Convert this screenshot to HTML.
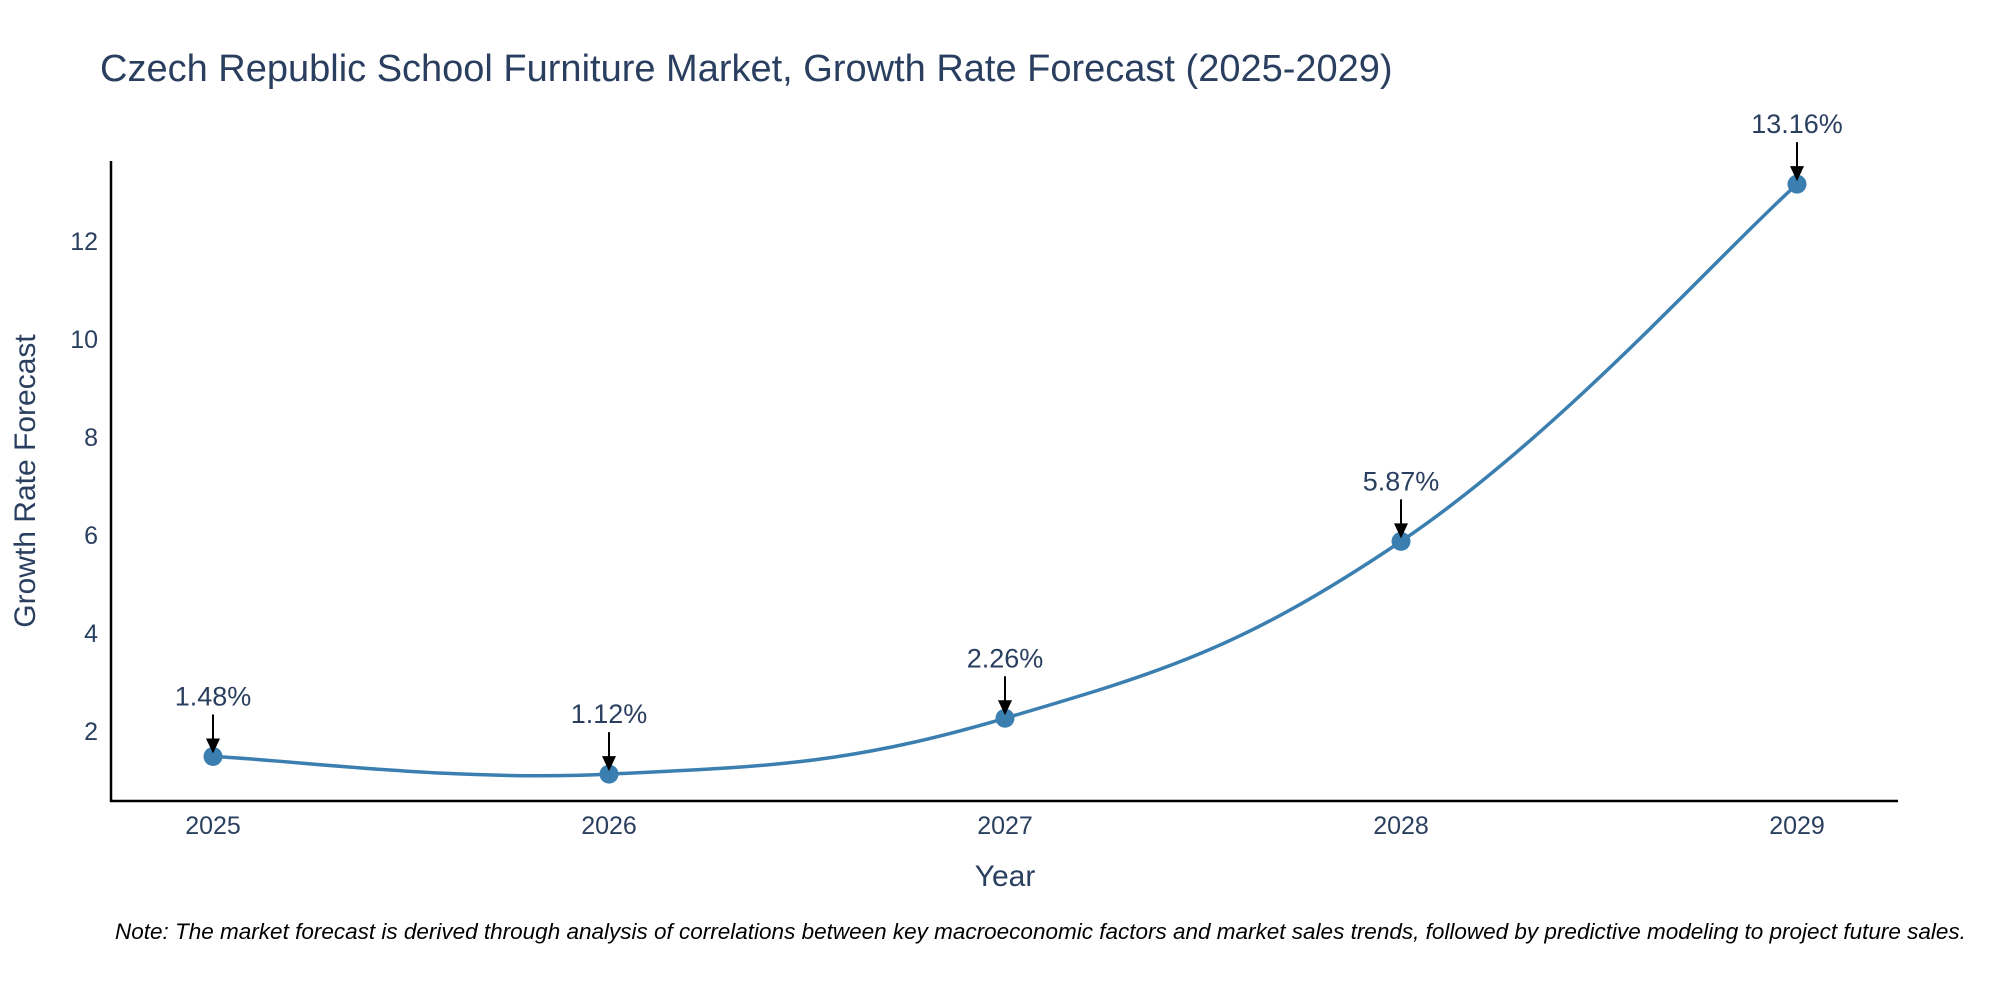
<!DOCTYPE html>
<html><head><meta charset="utf-8"><style>
body{margin:0;background:#fff;}
svg text{font-family:"Liberation Sans",sans-serif;}
</style></head><body>
<svg width="2000" height="1000" xmlns="http://www.w3.org/2000/svg">
<text x="100" y="81" font-size="38" fill="#2a3f5f">Czech Republic School Furniture Market, Growth Rate Forecast (2025-2029)</text>
<g id="yticks"></g><g id="xticks"></g>
<line x1="111" y1="161" x2="111" y2="802" stroke="#000" stroke-width="2.5"/>
<line x1="110" y1="801" x2="1898" y2="801" stroke="#000" stroke-width="2.5"/>
<path id="line" fill="none" stroke="#3a7fb0" stroke-width="3.5"/>
<g id="marks"></g>
<text x="1005" y="886" font-size="30" fill="#2a3f5f" text-anchor="middle">Year</text>
<text transform="translate(35,481) rotate(-90)" font-size="30" fill="#2a3f5f" text-anchor="middle">Growth Rate Forecast</text>
<text x="115" y="939" font-size="22.5" font-style="italic" fill="#000">Note: The market forecast is derived through analysis of correlations between key macroeconomic factors and market sales trends, followed by predictive modeling to project future sales.</text>
</svg>
<script>
const years=[2025,2026,2027,2028,2029];
const values=[1.48,1.12,2.26,5.87,13.16];
const labels=["1.48%","1.12%","2.26%","5.87%","13.16%"];
const yTicks=[2,4,6,8,10,12];
const NS="http://www.w3.org/2000/svg";
function X(yr){return 213+(yr-2025)*396;}
function Y(v){return 731-(v-2)*49;}
const yt=document.getElementById('yticks');
yTicks.forEach(t=>{const e=document.createElementNS(NS,'text');
e.setAttribute('x',98);e.setAttribute('y',Y(t)+9);e.setAttribute('font-size',25);e.setAttribute('fill','#2a3f5f');e.setAttribute('text-anchor','end');


e.textContent=t;yt.appendChild(e);});
const xt=document.getElementById('xticks');
years.forEach(t=>{const e=document.createElementNS(NS,'text');
e.setAttribute('x',X(t));e.setAttribute('y',834);e.setAttribute('font-size',25);e.setAttribute('fill','#2a3f5f');e.setAttribute('text-anchor','middle');


e.textContent=t;xt.appendChild(e);});
const P=years.map((y,i)=>[X(y),Y(values[i])]);
let d='M'+P[0][0]+','+P[0][1];
const k=0.2;
for(let i=0;i<P.length-1;i++){const p0=P[Math.max(i-1,0)],p1=P[i],p2=P[i+1],p3=P[Math.min(i+2,P.length-1)];
const c1=[p1[0]+(p2[0]-p0[0])*k,p1[1]+(p2[1]-p0[1])*k],c2=[p2[0]-(p3[0]-p1[0])*k,p2[1]-(p3[1]-p1[1])*k];
d+=' C'+c1+' '+c2+' '+p2;}
document.getElementById('line').setAttribute('d',d);
const mk=document.getElementById('marks');
P.forEach((p,i)=>{const c=document.createElementNS(NS,'circle');
c.setAttribute('cx',p[0]);c.setAttribute('cy',p[1]);c.setAttribute('r',9.5);c.setAttribute('fill','#3a7fb0');


mk.appendChild(c);
const a=document.createElementNS(NS,'line');
a.setAttribute('x1',p[0]);a.setAttribute('y1',p[1]-42);a.setAttribute('x2',p[0]);a.setAttribute('y2',p[1]-14);a.setAttribute('stroke','#000');a.setAttribute('stroke-width',2);


mk.appendChild(a);
const h=document.createElementNS(NS,'polygon');
h.setAttribute('points',(p[0]-7)+','+(p[1]-18)+' '+(p[0]+7)+','+(p[1]-18)+' '+p[0]+','+(p[1]-3));
h.setAttribute('fill','#000');


mk.appendChild(h);
const t=document.createElementNS(NS,'text');
t.setAttribute('x',p[0]);t.setAttribute('y',p[1]-51);t.setAttribute('font-size',27);t.setAttribute('fill','#2a3f5f');t.setAttribute('text-anchor','middle');


t.textContent=labels[i];mk.appendChild(t);});
</script>
</body></html>
